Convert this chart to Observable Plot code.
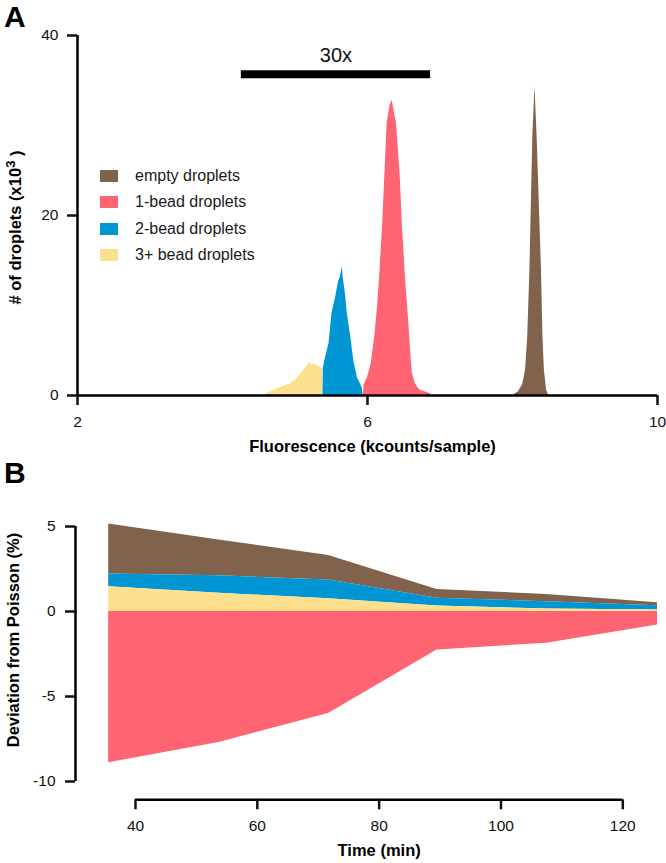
<!DOCTYPE html>
<html><head><meta charset="utf-8">
<script src="https://cdn.jsdelivr.net/npm/d3@7"></script>
<script src="https://cdn.jsdelivr.net/npm/@observablehq/plot@0.6"></script>
<style>
body{margin:0;background:#fff;font-family:"Liberation Sans",Arial,Helvetica,sans-serif;}
#root{position:relative;width:666px;height:863px;overflow:hidden;background:#fff;}
.panel{position:absolute;left:0;}
.plabel{position:absolute;font-weight:bold;font-size:30px;color:#000;line-height:1;}
.legend{position:absolute;left:100px;top:163px;}
.legend .row{display:flex;align-items:center;height:26.3px;font-size:16px;color:#1a1a1a;}
.legend .sw{width:18px;height:12px;margin-right:17px;}
</style></head><body><div id="root"></div>
<script>
const FONT = '"Liberation Sans", Arial, Helvetica, sans-serif';

// ---- shared series ----
const seriesNames = ["empty droplets", "1-bead droplets", "2-bead droplets", "3+ bead droplets"];
const seriesColors = ["#81624d", "#ff6473", "#0096d4", "#fde08e"];

// ---- Panel A: histograms (fluorescence kcounts, # droplets x10^3) ----
const emptyX = [8.00, 8.08, 8.14, 8.18, 8.21, 8.24, 8.26, 8.28, 8.31, 8.34, 8.37, 8.40, 8.42, 8.44, 8.47, 8.50];
const emptyY = [0, 0.4, 1.2, 2.8, 6.5, 13.9, 21.3, 28.7, 34.3, 28.7, 21.3, 13.9, 6.5, 2.8, 0.6, 0];
const oneX = [5.945, 5.95, 6.00, 6.05, 6.10, 6.14, 6.17, 6.21, 6.24, 6.27, 6.31, 6.34, 6.37, 6.40, 6.45, 6.48, 6.52, 6.57, 6.60, 6.62, 6.66, 6.72, 6.80, 6.87, 6.88];
const oneY = [0, 1.1, 2.0, 3.5, 6.5, 10, 13.5, 19.1, 24.6, 30.2, 32.2, 32.8, 31.5, 30.2, 24.6, 19.1, 13.5, 8.0, 4.3, 2.4, 1.3, 0.6, 0.4, 0.2, 0];
const twoX = [5.385, 5.39, 5.42, 5.47, 5.51, 5.56, 5.60, 5.63, 5.65, 5.67, 5.70, 5.72, 5.77, 5.81, 5.86, 5.93, 5.94];
const twoY = [0, 3.0, 4.2, 5.8, 9.1, 10.9, 12.6, 13.3, 14.3, 12.8, 11.0, 9.1, 6.5, 3.9, 2.0, 0.8, 0];
const threeX = [4.55, 4.66, 4.80, 4.94, 5.03, 5.10, 5.17, 5.20, 5.23, 5.26, 5.31, 5.38];
const threeY = [0, 0.4, 0.9, 1.3, 1.9, 2.6, 3.3, 3.7, 3.4, 3.5, 3.3, 3.0];

const xTicksA = [2, 6, 10];
const yTicksA = [0, 20, 40];
const scaleBarX = [4.26, 6.87];
const scaleBarY = [35.7];
const scaleBarLabel = "30x";
const scaleBarLabelY = 37.8;
const xTitleA = "Fluorescence (kcounts/sample)";
const yTitleA = ["# of droplets (x10", "3", " )"];

// ---- Panel B: deviation from Poisson (%) over time ----
const times = [35.6, 53.7, 71.7, 89.5, 107.5, 125.7];
const devEmpty = [2.95, 2.1, 1.45, 0.52, 0.42, 0.18];
const devOne = [-8.9, -7.7, -6.0, -2.26, -1.87, -0.79];
const devTwo = [0.74, 1.03, 1.1, 0.46, 0.43, 0.25];
const devThree = [1.46, 1.07, 0.75, 0.32, 0.15, 0.09];
const stackOrder = ["3+ bead droplets", "2-bead droplets", "empty droplets", "1-bead droplets"];
const xTicksB = [40, 60, 80, 100, 120];
const yTicksB = [-10, -5, 0, 5];
const xTitleB = "Time (min)";
const yTitleB = "Deviation from Poisson (%)";

// ---- build tables ----
const histSets = [
  {name: seriesNames[0], xs: emptyX, ys: emptyY},
  {name: seriesNames[1], xs: oneX, ys: oneY},
  {name: seriesNames[2], xs: twoX, ys: twoY},
  {name: seriesNames[3], xs: threeX, ys: threeY}
];
const histRows = histSets.map(s => s.xs.map((x, i) => ({s: s.name, x, y: s.ys[i]})));

const devSets = [[seriesNames[0], devEmpty], [seriesNames[1], devOne], [seriesNames[2], devTwo], [seriesNames[3], devThree]];
const devRows = devSets.flatMap(([s, vals]) => times.map((t, i) => ({s, t, v: vals[i]})));

const styleObj = {fontFamily: FONT, fontSize: "15.5px", color: "#111", background: "white", overflow: "visible"};
const TICK_FS = 15.5;
const TITLE_FS = 16.5;

const panelA = Plot.plot({
  width: 666, height: 470,
  marginLeft: 77, marginRight: 9, marginTop: 35, marginBottom: 75,
  x: {domain: [2, 10]},
  y: {domain: [0, 40]},
  color: {domain: seriesNames, range: seriesColors},
  style: styleObj,
  marks: [
    ...histRows.map(rows => Plot.areaY(rows, {x: "x", y1: 0, y2: "y", fill: "s"})),
    Plot.ruleY([0], {x1: 2, x2: 10, strokeWidth: 2.5, stroke: "#000"}),
    Plot.ruleX([2], {y1: 0, y2: 40, strokeWidth: 2.5, stroke: "#000"}),
    Plot.axisX({ticks: xTicksA, tickSize: 10, tickPadding: 10, strokeWidth: 2.5, fontSize: TICK_FS, label: null}),
    Plot.axisY({ticks: yTicksA, tickSize: 10, tickPadding: 9, strokeWidth: 2.5, fontSize: TICK_FS, label: null}),
    Plot.ruleY(scaleBarY, {x1: scaleBarX[0], x2: scaleBarX[1], strokeWidth: 8, stroke: "#000"}),
    Plot.text([scaleBarLabel], {x: (scaleBarX[0] + scaleBarX[1]) / 2, y: scaleBarLabelY, fontSize: 20, fill: "#111"}),
    Plot.text([xTitleA], {frameAnchor: "bottom", dy: 56, dx: 5, fontWeight: "bold", fontSize: TITLE_FS, fill: "#000"}),
    Plot.text([yTitleA.join("")], {frameAnchor: "left", textAnchor: "middle", dx: -62, dy: 12, rotate: -90, fontWeight: "bold", fontSize: TITLE_FS, fill: "#000", className: "ytitle-a"})
  ]
});

// render the exponent as a raised tspan, keeping it as real text
d3.select(panelA).selectAll("g.ytitle-a text").each(function() {
  const t = d3.select(this);
  t.text(null);
  t.append("tspan").text(yTitleA[0]);
  t.append("tspan").attr("dy", "-0.45em").attr("font-size", 13).text(yTitleA[1]);
  t.append("tspan").attr("dy", "0.45em").text(yTitleA[2]);
});

const panelB = Plot.plot({
  width: 666, height: 393,
  marginLeft: 135, marginRight: 43.7, marginTop: 56, marginBottom: 82,
  x: {domain: [40, 120]},
  y: {domain: [-10, 5]},
  color: {domain: seriesNames, range: seriesColors},
  style: styleObj,
  marks: [
    Plot.areaY(devRows, {x: "t", y: "v", z: "s", fill: "s", order: stackOrder, curve: "linear"}),
    Plot.ruleX([40], {y1: -10, y2: 5, dx: -60, strokeWidth: 2.5, stroke: "#000"}),
    Plot.axisY({ticks: yTicksB, tickSize: 10, tickPadding: 10, dx: -60, strokeWidth: 2.5, fontSize: TICK_FS, tickFormat: d => String(d), label: null}),
    Plot.ruleY([-10], {x1: 40, x2: 120, dy: 18.3, strokeWidth: 2.5, stroke: "#000"}),
    Plot.axisX({ticks: xTicksB, tickSize: 10, tickPadding: 10, dy: 18.3, strokeWidth: 2.5, fontSize: TICK_FS, label: null}),
    Plot.text([xTitleB], {frameAnchor: "bottom", dy: 74, fontWeight: "bold", fontSize: TITLE_FS, fill: "#000"}),
    Plot.text([yTitleB], {frameAnchor: "left", textAnchor: "middle", dx: -122, dy: -14, rotate: -90, fontWeight: "bold", fontSize: TITLE_FS, fill: "#000"})
  ]
});

const root = document.getElementById("root");
panelA.classList.add("panel"); panelA.style.top = "0px"; panelA.style.position = "absolute";
panelB.classList.add("panel"); panelB.style.top = "470px"; panelB.style.position = "absolute";
root.appendChild(panelA);
root.appendChild(panelB);

// panel letters
for (const [txt, top] of [["A", 2], ["B", 458]]) {
  const d = document.createElement("div");
  d.className = "plabel"; d.textContent = txt;
  d.style.left = "4px"; d.style.top = top + "px";
  root.appendChild(d);
}

// legend
const leg = document.createElement("div");
leg.className = "legend";
seriesNames.forEach((n, i) => {
  const row = document.createElement("div"); row.className = "row";
  const sw = document.createElement("span"); sw.className = "sw"; sw.style.background = seriesColors[i];
  const lab = document.createElement("span"); lab.textContent = n;
  row.appendChild(sw); row.appendChild(lab); leg.appendChild(row);
});
root.appendChild(leg);
</script></body></html>
